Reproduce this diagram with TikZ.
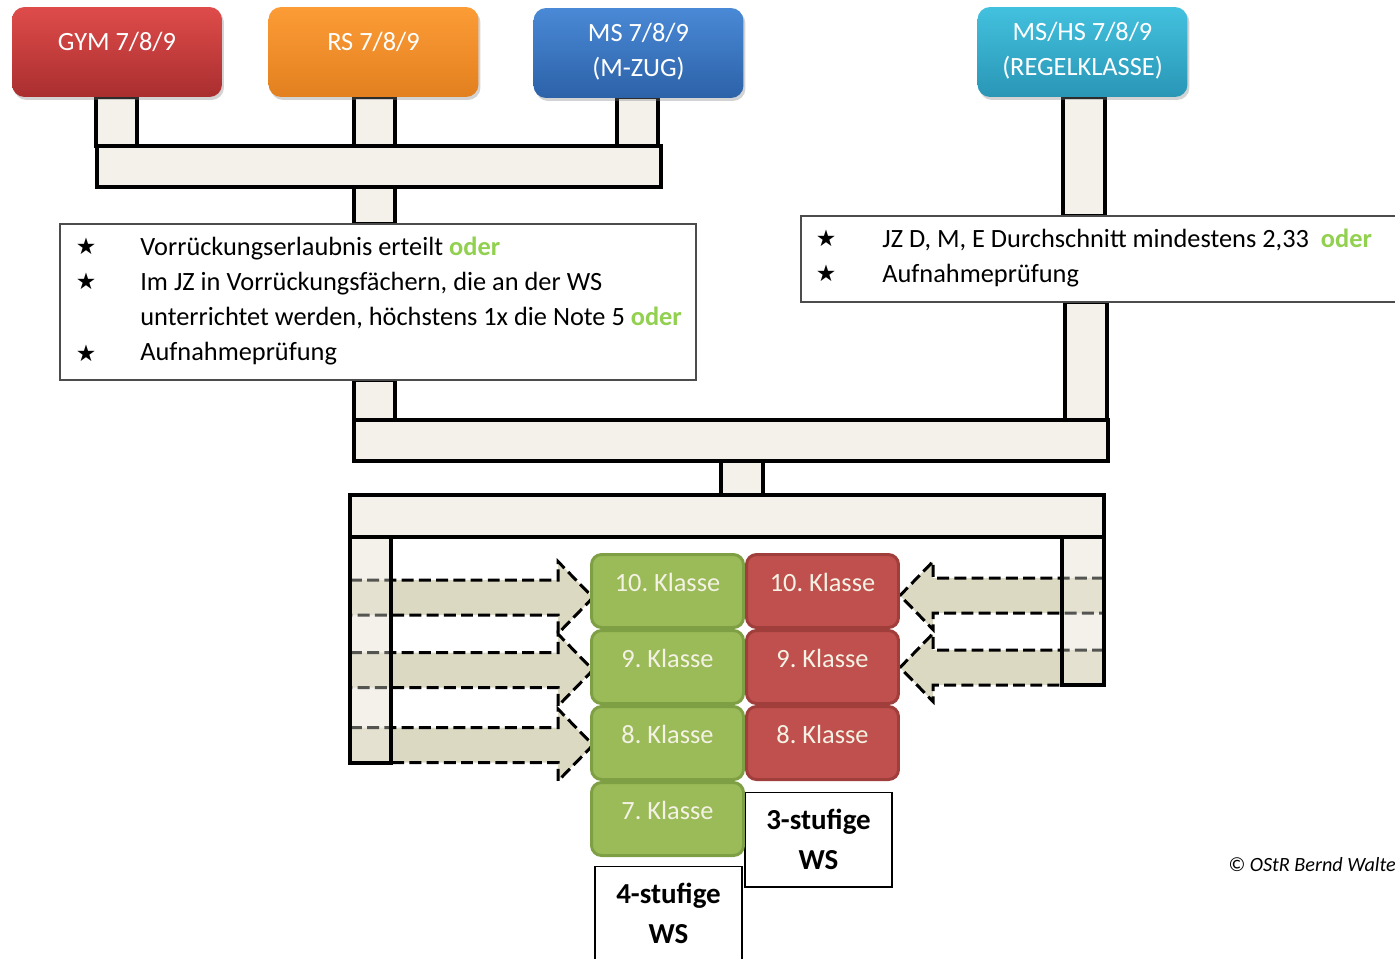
\documentclass[tikz,border=0pt]{standalone}
\usepackage{fontspec}
\setmainfont{Carlito}
\newfontfamily\symfont{DejaVu Sans}
\usetikzlibrary{shadows}
\definecolor{barfill}{HTML}{F3F1EA}
\definecolor{arrowfill}{HTML}{DCD9C3}
\definecolor{odergreen}{HTML}{92D050}
\definecolor{classgreen}{HTML}{9BBB59}
\definecolor{classgreenline}{HTML}{7F9F45}
\definecolor{classred}{HTML}{C0504D}
\definecolor{classredline}{HTML}{A03E3B}
\definecolor{classtxt}{HTML}{F4F2E4}
\newcommand{\oder}{\textcolor{odergreen}{\textbf{oder}}}

\begin{document}
\begin{tikzpicture}[x=0.02cm, y=-0.02cm,
  bar/.style={draw=black, line width=2.2pt, fill=barfill},
  topbox/.style={rounded corners=0.25cm, minimum width=4.2cm, minimum height=1.8cm,
    drop shadow={opacity=0.35, shadow xshift=0.04cm, shadow yshift=-0.06cm}},
  toptext/.style={text=white, align=center, font=\fontsize{15}{19.9}\selectfont},
  infoline/.style={draw=black!70, line width=0.8pt, fill=white},
  infotext/.style={anchor=base west, inner sep=0pt, font=\fontsize{15}{18}\selectfont},
  stern/.style={inner sep=0pt, font=\symfont\fontsize{13}{15}\selectfont},
  flowarrow/.style={fill=arrowfill, draw=black, line width=1.7pt, dash pattern=on 6.8pt off 3pt},
  classbox/.style={rounded corners=0.2cm, line width=1.7pt, minimum width=3.04cm, minimum height=1.46cm},
  classtext/.style={text=classtxt, font=\fontsize{15}{18}\selectfont},
  wsbox/.style={draw=black, line width=0.6pt, fill=white, minimum width=2.94cm, minimum height=1.9cm,
    align=center, font=\bfseries\fontsize{16.5}{22.7}\selectfont}]
\useasboundingbox (0,0) rectangle (1395,958);

% Zubringer links
\draw[bar] (96,97) rectangle (137,146);
\draw[bar] (354,97) rectangle (395,146);
\draw[bar] (617,97) rectangle (658,146);
\draw[bar] (97,146) rectangle (661,187);
\draw[bar] (354,187) rectangle (395,224);
\draw[bar] (354,380) rectangle (395,420);
% Zubringer rechts
\draw[bar] (1063,97) rectangle (1105,216);
\draw[bar] (1065,302) rectangle (1107,420);
% Sammelbalken
\draw[bar] (354,420) rectangle (1108,461);
\draw[bar] (721,461) rectangle (763,495);
\draw[bar] (350,495) rectangle (1104,537);
\draw[bar] (350,537) rectangle (391,763);
\draw[bar] (1062,537) rectangle (1104,685);

% Schularten
\node[topbox, top color={rgb,255:red,222;green,76;blue,74}, bottom color={rgb,255:red,170;green,46;blue,47}] (gym) at (117,52) {};
\node[topbox, top color={rgb,255:red,252;green,156;blue,54}, bottom color={rgb,255:red,226;green,128;blue,31}] (rs) at (373.5,52) {};
\node[topbox, top color={rgb,255:red,74;green,137;blue,214}, bottom color={rgb,255:red,44;green,98;blue,168}] (ms) at (638.5,53) {};
\node[topbox, top color={rgb,255:red,66;green,193;blue,222}, bottom color={rgb,255:red,42;green,150;blue,182}] (mshs) at (1082.5,52) {};
\node[toptext] (gymtxt) at (117,42) {GYM 7/8/9};
\node[toptext] (rstxt) at (373.5,42) {RS 7/8/9};
\node[toptext] (mstxt) at (638.5,52) {MS 7/8/9\\(M-ZUG)};
\node[toptext] (mshstxt) at (1082.5,50.5) {MS/HS 7/8/9\\(REGELKLASSE)};

% Bedingungen links
\draw[infoline] (60,224) rectangle (696,380);
\foreach \y [count=\i] in {246,281,353}
  \node[stern] (sl\i) at (86,\y) {★};
\node[infotext] (la) at (140,255) {Vorrückungserlaubnis erteilt \oder};
\node[infotext] (lb) at (140,290) {Im JZ in Vorrückungsfächern, die an der WS};
\node[infotext] (lc) at (140,325) {unterrichtet werden, höchstens 1x die Note 5 \oder};
\node[infotext] (ld) at (140,360) {Aufnahmeprüfung};

% Bedingungen rechts
\draw[infoline] (801,216) rectangle (1420,302);
\foreach \y [count=\i] in {238,273}
  \node[stern] (sr\i) at (826,\y) {★};
\node[infotext] (ra) at (882,247) {JZ D, M, E Durchschnitt mindestens 2,33\ \ \oder};
\node[infotext] (rb) at (882,282) {Aufnahmeprüfung};

% Uebertritt in die Klassen
\foreach \yc in {597.5,670,745}
  \filldraw[flowarrow] (350,\yc-17.5) -- (558,\yc-17.5) -- (558,\yc-36) -- (593,\yc)
    -- (558,\yc+36) -- (558,\yc+17.5) -- (350,\yc+17.5);
\foreach \yc in {595.5,667.5}
  \filldraw[flowarrow] (1104,\yc-17.5) -- (933,\yc-17.5) -- (933,\yc-34) -- (900,\yc)
    -- (933,\yc+34) -- (933,\yc+17.5) -- (1104,\yc+17.5);
\draw[bar, fill opacity=0.35] (350,537) rectangle (391,763);
\draw[bar, fill opacity=0.35] (1062,537) rectangle (1104,685);

% Wirtschaftsschule
\node[wsbox] (ws3) at (818.5,839.5) {3-stufige\\WS};
\node[wsbox] (ws4) at (668.5,913.5) {4-stufige\\WS};
\foreach \k/\yc in {10/591,9/667,8/743,7/819} {
  \node[classbox, fill=classgreen, draw=classgreenline] (g\k) at (667.5,\yc) {};
  \node[classtext] (gt\k) at (667.5,\yc-9) {\k.\ Klasse};
}
\foreach \k/\yc in {10/591,9/667,8/743} {
  \node[classbox, fill=classred, draw=classredline] (r\k) at (822.5,\yc) {};
  \node[classtext] (rt\k) at (822.5,\yc-9) {\k.\ Klasse};
}

\node[anchor=base west, inner sep=0pt, font=\itshape\fontsize{11.5}{14}\selectfont] (copy) at (1228,871) {© OStR Bernd Walte};
\end{tikzpicture}
\end{document}
